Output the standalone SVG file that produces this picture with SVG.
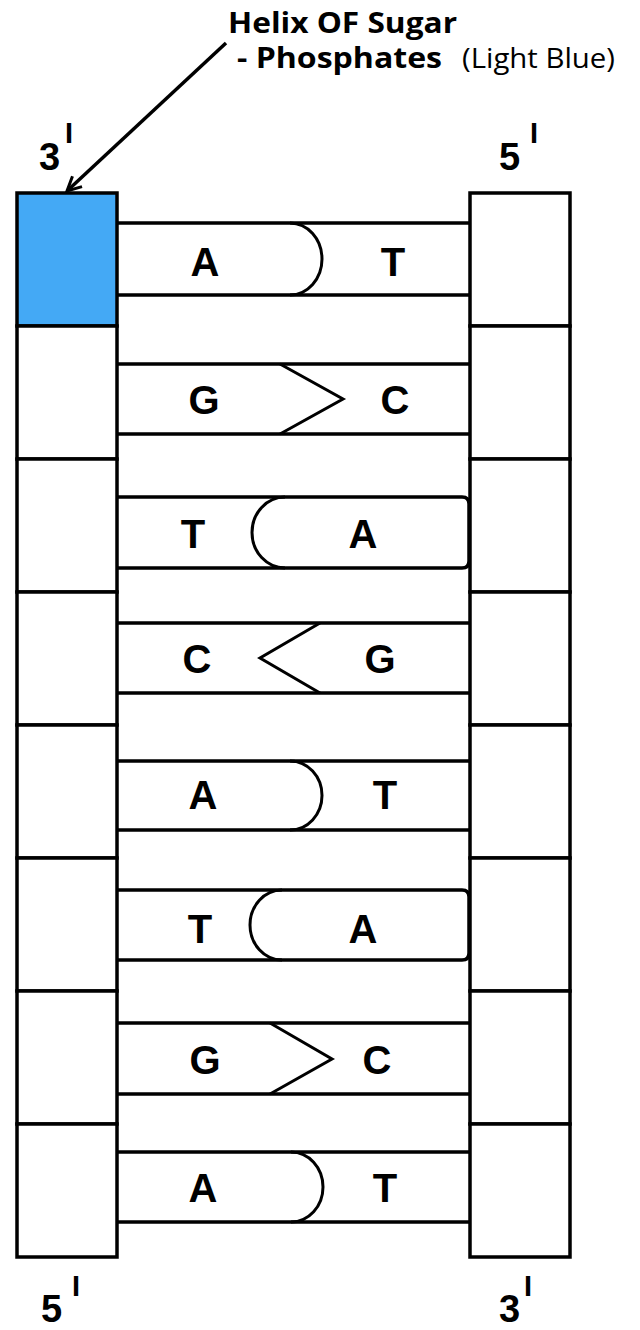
<svg xmlns="http://www.w3.org/2000/svg" width="640" height="1330" viewBox="0 0 640 1330">
<defs>
<style>
.box{fill:#fff;stroke:#000;stroke-width:3.5}
.blue{fill:#44A9F5}
.ln{stroke:#000;stroke-width:3.5;fill:none}
.dv{stroke:#000;stroke-width:3;fill:none;stroke-linejoin:miter}
.base{font-family:"Liberation Sans",Arial,sans-serif;font-weight:700;font-size:40px;text-anchor:middle;fill:#000}
.end{font-family:"Liberation Sans",Arial,sans-serif;font-weight:700;font-size:38px;fill:#000}
.pr{font-family:"Liberation Sans",Arial,sans-serif;font-weight:700;font-size:29px;fill:#000}
.hd{font-family:"Open Sans","Liberation Sans",sans-serif;font-weight:700;font-size:28px;fill:#000}
.hr{font-family:"Open Sans","Liberation Sans",sans-serif;font-weight:400;font-size:27px;fill:#000}
</style>
<marker id="ah" viewBox="0 0 20 20" refX="18" refY="10" markerWidth="20" markerHeight="20" markerUnits="userSpaceOnUse" orient="auto">
<path d="M4,3 L18,10 L4,17" fill="none" stroke="#000" stroke-width="3"/>
</marker>
</defs>
<rect width="640" height="1330" fill="#fff"/>

<g id="strand-left">
<rect class="box blue" x="17" y="193" width="100" height="133"/>
<rect class="box" x="17" y="326" width="100" height="133"/>
<rect class="box" x="17" y="459" width="100" height="133"/>
<rect class="box" x="17" y="592" width="100" height="133"/>
<rect class="box" x="17" y="725" width="100" height="133"/>
<rect class="box" x="17" y="858" width="100" height="133"/>
<rect class="box" x="17" y="991" width="100" height="133"/>
<rect class="box" x="17" y="1124" width="100" height="133"/>
</g>
<g id="strand-right">
<rect class="box" x="470" y="193" width="100" height="133"/>
<rect class="box" x="470" y="326" width="100" height="133"/>
<rect class="box" x="470" y="459" width="100" height="133"/>
<rect class="box" x="470" y="592" width="100" height="133"/>
<rect class="box" x="470" y="725" width="100" height="133"/>
<rect class="box" x="470" y="858" width="100" height="133"/>
<rect class="box" x="470" y="991" width="100" height="133"/>
<rect class="box" x="470" y="1124" width="100" height="133"/>
</g>

<g id="pair1">
<path class="ln" d="M117,223 H470 M117,295 H470"/>
<path class="dv" d="M290,223 A32,36 0 0 1 290,295"/>
<text class="base" x="205" y="276">A</text>
<text class="base" x="393" y="276">T</text>
</g>
<g id="pair2">
<path class="ln" d="M117,364 H470 M117,434 H470"/>
<path class="dv" d="M280,364 L343,399 L280,434"/>
<text class="base" x="204" y="414">G</text>
<text class="base" x="395" y="414">C</text>
</g>
<g id="pair3">
<path class="ln" d="M117,497 H462 Q469,497 469,504 V561 Q469,568 462,568 H117"/>
<path class="dv" d="M285,497 A33,35.5 0 0 0 285,568"/>
<text class="base" x="193" y="548">T</text>
<text class="base" x="363" y="548">A</text>
</g>
<g id="pair4">
<path class="ln" d="M117,623 H470 M117,693 H470"/>
<path class="dv" d="M320,623 L260,658 L320,693"/>
<text class="base" x="197" y="673">C</text>
<text class="base" x="380" y="673">G</text>
</g>
<g id="pair5">
<path class="ln" d="M117,761 H470 M117,830 H470"/>
<path class="dv" d="M290,761 A32,34.5 0 0 1 290,830"/>
<text class="base" x="203" y="809">A</text>
<text class="base" x="385" y="809">T</text>
</g>
<g id="pair6">
<path class="ln" d="M117,890 H462 Q469,890 469,897 V953 Q469,960 462,960 H117"/>
<path class="dv" d="M282,890 A32,35 0 0 0 282,960"/>
<text class="base" x="200" y="943">T</text>
<text class="base" x="363" y="943">A</text>
</g>
<g id="pair7">
<path class="ln" d="M117,1023 H470 M117,1094 H470"/>
<path class="dv" d="M270,1023 L332,1059 L270,1094"/>
<text class="base" x="205" y="1074">G</text>
<text class="base" x="377" y="1074">C</text>
</g>
<g id="pair8">
<path class="ln" d="M117,1152 H470 M117,1222 H470"/>
<path class="dv" d="M291,1152 A32,35 0 0 1 291,1222"/>
<text class="base" x="203" y="1202">A</text>
<text class="base" x="385" y="1202">T</text>
</g>

<g id="end-labels">
<text class="end" x="39" y="170">3</text><text class="pr" x="65" y="143">I</text>
<text class="end" x="499" y="170">5</text><text class="pr" x="530" y="143">I</text>
<text class="end" x="41" y="1322">5</text><text class="pr" x="72" y="1296">I</text>
<text class="end" x="499" y="1322">3</text><text class="pr" x="524" y="1296">I</text>
</g>

<g id="label">
<text class="hd" x="228" y="33" textLength="229" lengthAdjust="spacingAndGlyphs">Helix OF Sugar</text>
<text class="hd" x="237" y="68" textLength="205" lengthAdjust="spacingAndGlyphs">- Phosphates</text>
<text class="hr" x="462" y="68" textLength="153" lengthAdjust="spacingAndGlyphs">(Light Blue)</text>
</g>

<g id="connectors">
<line class="ln" x1="226" y1="43" x2="67" y2="191" stroke-width="3" marker-end="url(#ah)"/>
</g>
</svg>
